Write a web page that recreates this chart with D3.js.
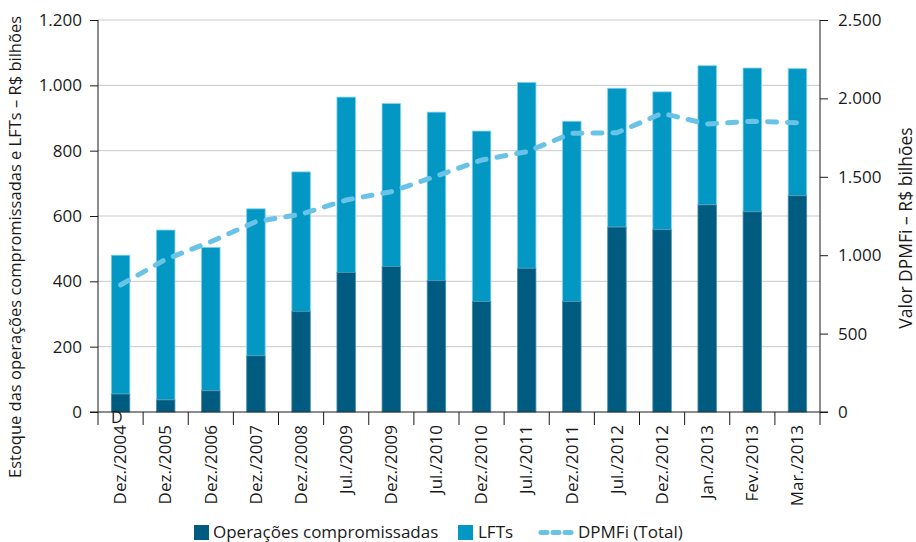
<!DOCTYPE html>
<html>
<head>
<meta charset="utf-8">
<script src="https://cdn.jsdelivr.net/npm/d3@7"></script>
<style>
  html, body { margin: 0; padding: 0; background: #fff; }
  svg { display: block; }
  text { font-family: "Open Sans", "Noto Sans", sans-serif; fill: #1a1a1a; }
</style>
</head>
<body>
<svg id="chart" width="916" height="542"></svg>
<script>
// Categories (reference dates)
const categories = ["Dez./2004", "Dez./2005", "Dez./2006", "Dez./2007", "Dez./2008",
  "Jul./2009", "Dez./2009", "Jul./2010", "Dez./2010", "Jul./2011", "Dez./2011",
  "Jul./2012", "Dez./2012", "Jan./2013", "Fev./2013", "Mar./2013"];

// Stock of repo operations (R$ billions)
const compromissadas = [55, 37, 65, 172, 308, 427, 445, 402, 338, 440, 338, 566, 558, 634, 613, 662];
// LFT stock (R$ billions), stacked on top of repo operations
const lfts = [425, 520, 439, 450, 427, 537, 499, 516, 522, 569, 552, 425, 422, 426, 440, 389];
// Federal domestic debt DPMFi total (R$ billions, right axis)
const dpmfi = [810, 974, 1086, 1214, 1261, 1352, 1405, 1505, 1607, 1660, 1777, 1781, 1905, 1837, 1854, 1845];

const leftTicks = [0, 200, 400, 600, 800, 1000, 1200];
const rightTicks = [0, 500, 1000, 1500, 2000, 2500];

const colDark = "#005b80";
const colLight = "#0397c4";
const colLine = "#68c3e6";

const svg = d3.select("#chart");
const m = { left: 98, right: 820, top: 20, bottom: 412 };
const fmt = d3.formatLocale({ decimal: ",", thousands: ".", grouping: [3], currency: ["R$", ""] }).format(",.0f");

const x = d3.scaleBand().domain(categories).range([m.left, m.right]).padding(0);
const yL = d3.scaleLinear().domain([0, 1200]).range([m.bottom, m.top]);
const yR = d3.scaleLinear().domain([0, 2500]).range([m.bottom, m.top]);

// Horizontal gridlines
svg.append("g").selectAll("line").data(leftTicks.slice(1)).join("line")
  .attr("x1", m.left).attr("x2", m.right)
  .attr("y1", d => yL(d)).attr("y2", d => yL(d))
  .attr("stroke", "#c9c9c9").attr("stroke-width", 1);

// Stacked bars
const barW = x.bandwidth() * 0.41;
const bx = d => x(d) + (x.bandwidth() - barW) / 2;
const bars = svg.append("g");
categories.forEach((c, i) => {
  const base = compromissadas[i];
  bars.append("rect")
    .attr("x", bx(c)).attr("width", barW)
    .attr("y", yL(base + lfts[i])).attr("height", yL(base) - yL(base + lfts[i]))
    .attr("fill", colLight).attr("stroke", "#7fd0ef").attr("stroke-width", 0.8);
  bars.append("rect")
    .attr("x", bx(c)).attr("width", barW)
    .attr("y", yL(base)).attr("height", yL(0) - yL(base))
    .attr("fill", colDark).attr("stroke", "#4f8fab").attr("stroke-width", 0.8);
});

// DPMFi line
const line = d3.line()
  .x((d, i) => x(categories[i]) + x.bandwidth() / 2)
  .y(d => yR(d));
svg.append("path").datum(dpmfi)
  .attr("d", line)
  .attr("fill", "none").attr("stroke", colLine)
  .attr("stroke-width", 5).attr("stroke-linecap", "round").attr("stroke-linejoin", "round")
  .attr("stroke-dasharray", "9,11");

// Left axis
const axL = svg.append("g").attr("transform", `translate(${m.left},0)`)
  .call(d3.axisLeft(yL).tickValues(leftTicks).tickFormat(fmt).tickSize(8).tickPadding(8));
// Right axis
const axR = svg.append("g").attr("transform", `translate(${m.right},0)`)
  .call(d3.axisRight(yR).tickValues(rightTicks).tickFormat(fmt).tickSize(8).tickPadding(10));
[axL, axR].forEach(a => {
  a.select(".domain").attr("stroke", "#1a1a1a").attr("d", `M0,${m.top}V${m.bottom + 13}`);
  a.selectAll(".tick line").attr("stroke", "#1a1a1a");
  a.selectAll(".tick text").attr("font-size", 17).attr("fill", "#1a1a1a")
    .style("font-family", '"Open Sans", sans-serif');
});

// Bottom axis: baseline and separator ticks between categories
const bottom = svg.append("g");
bottom.append("line").attr("x1", m.left - 8).attr("x2", m.right + 8)
  .attr("y1", m.bottom).attr("y2", m.bottom).attr("stroke", "#1a1a1a");
bottom.selectAll("line.sep").data(categories.slice(1)).join("line").attr("class", "sep")
  .attr("x1", d => x(d)).attr("x2", d => x(d))
  .attr("y1", m.bottom).attr("y2", m.bottom + 13).attr("stroke", "#1a1a1a");
bottom.selectAll("text").data(categories).join("text")
  .attr("transform", d => `translate(${x(d) + x.bandwidth() / 2 + 4},${m.bottom + 13}) rotate(-90)`)
  .attr("text-anchor", "end").attr("dy", "0.1em")
  .attr("font-size", 17).text(d => d);
bottom.append("text").attr("x", x(categories[0]) + 13).attr("y", m.bottom + 11)
  .attr("font-size", 16).text("D");

// Axis titles
svg.append("text")
  .attr("transform", `translate(21,${(m.top + m.bottom) / 2 + 31}) rotate(-90)`)
  .attr("text-anchor", "middle").attr("font-size", 16.5)
  .text("Estoque das operações compromissadas e LFTs – R$ bilhões");
svg.append("text")
  .attr("transform", `translate(912,228) rotate(-90)`)
  .attr("text-anchor", "middle").attr("font-size", 17.5)
  .text("Valor DPMFi – R$ bilhões");

// Legend
const lg = svg.append("g");
lg.append("rect").attr("x", 194).attr("y", 525).attr("width", 15).attr("height", 15).attr("fill", colDark);
lg.append("text").attr("x", 213).attr("y", 537.5).attr("font-size", 17).text("Operações compromissadas");
lg.append("rect").attr("x", 458).attr("y", 525).attr("width", 15).attr("height", 15).attr("fill", colLight);
lg.append("text").attr("x", 478).attr("y", 537.5).attr("font-size", 17).text("LFTs");
lg.append("line").attr("x1", 541).attr("x2", 572).attr("y1", 532.5).attr("y2", 532.5)
  .attr("stroke", colLine).attr("stroke-width", 5).attr("stroke-linecap", "round")
  .attr("stroke-dasharray", "6,6");
lg.append("text").attr("x", 578).attr("y", 537.5).attr("font-size", 17).text("DPMFi (Total)");
</script>
</body>
</html>
